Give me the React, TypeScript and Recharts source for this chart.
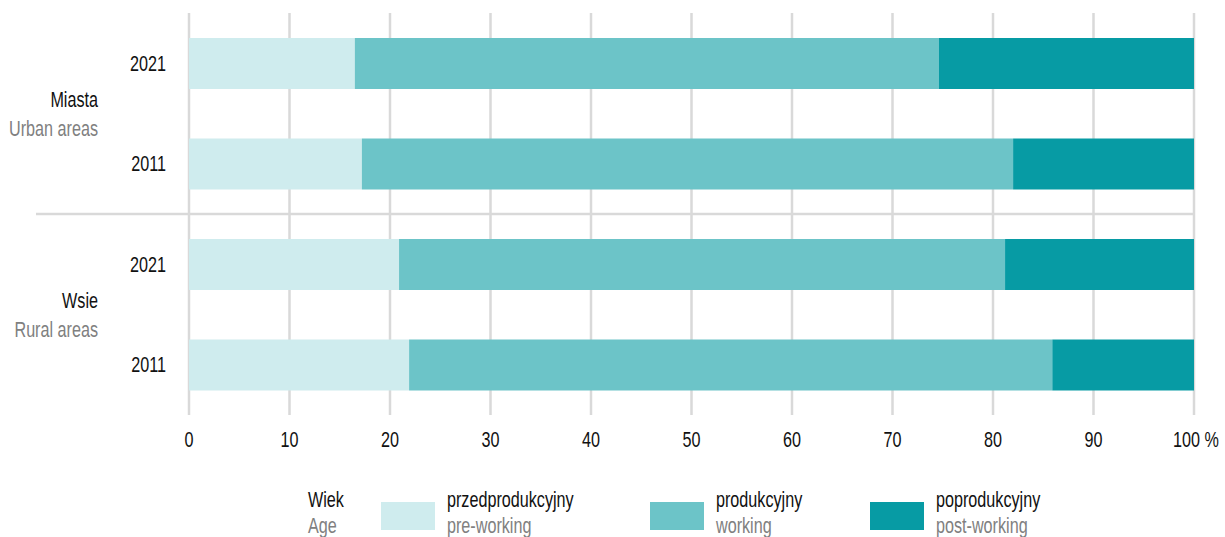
import React from 'react';
import { BarChart, Bar, XAxis, YAxis, CartesianGrid, Legend } from 'recharts';

// Population by economic age group, share in %
const rowKeys = ['miasta-2021', 'miasta-2011', 'wsie-2021', 'wsie-2011'];
const years = ['2021', '2011', '2021', '2011'];
const groupLabels = [
  { pl: 'Miasta', en: 'Urban areas' },
  { pl: 'Wsie', en: 'Rural areas' },
];
const preWorking = [16.5, 17.2, 20.9, 21.9];
const working = [58.1, 64.8, 60.3, 64.0];
const postWorking = [25.4, 18.0, 18.8, 14.1];
const xTicks = [0, 10, 20, 30, 40, 50, 60, 70, 80, 90, 100];

const seriesNames = [
  { key: 'pre', pl: 'przedprodukcyjny', en: 'pre-working', color: '#cfecee' },
  { key: 'work', pl: 'produkcyjny', en: 'working', color: '#6cc4c8' },
  { key: 'post', pl: 'poprodukcyjny', en: 'post-working', color: '#079ba4' },
];
const legendTitle = { pl: 'Wiek', en: 'Age' };

const data = rowKeys.map((id, i) => ({
  id,
  year: years[i],
  pre: preWorking[i],
  work: working[i],
  post: postWorking[i],
}));

const W = 1225;
const H = 537;
const MARGIN = { top: 13, right: 31, bottom: 82, left: 0 };
const Y_AXIS_W = 189;
const X_AXIS_H = 40;
const PLOT_H = H - MARGIN.top - MARGIN.bottom - X_AXIS_H;
const BAND = PLOT_H / rowKeys.length;
const PLOT_RIGHT = W - MARGIN.right;

const FONT = "'Liberation Sans', Arial, sans-serif";
const FS = 22;
const SX = 0.735; // horizontal squeeze for a condensed look
const DARK = '#111111';
const GREY = '#808080';
const GRID = '#d9d9d9';

// Condensed text helper
const CText = ({ x, y, anchor = 'start', fill = DARK, size = FS, baseline = 'auto', children }: any) => (
  <text
    transform={`translate(${x},${y}) scale(${SX},1)`}
    textAnchor={anchor}
    dominantBaseline={baseline}
    fontSize={size}
    fill={fill}
    fontFamily={FONT}
  >
    {children}
  </text>
);

const YTick = (props: any) => {
  const { x, y, index } = props;
  const mid = y + BAND / 2;
  const g = groupLabels[index / 2];
  return (
    <g>
      <CText x={x - 23} y={y} anchor="end" baseline="central">
        {years[index]}
      </CText>
      {index % 2 === 0 && (
        <g>
          <CText x={98} y={mid - 14} anchor="end" baseline="central">
            {g.pl}
          </CText>
          <CText x={98} y={mid + 15} anchor="end" baseline="central" fill={GREY}>
            {g.en}
          </CText>
        </g>
      )}
      {index === 1 && <line x1={36} x2={PLOT_RIGHT} y1={mid} y2={mid} stroke={GRID} strokeWidth={2.5} />}
    </g>
  );
};

const XTick = (props: any) => {
  const { x, y, payload } = props;
  if (payload.value === 100) {
    return (
      <CText x={x - 21} y={y + 25} baseline="central">
        {`${payload.value} %`}
      </CText>
    );
  }
  return (
    <CText x={x} y={y + 25} anchor="middle" baseline="central">
      {payload.value}
    </CText>
  );
};

const LEGEND_TOP = 480;
const legendItemX = [381, 650, 870];

const LegendContent = () => (
  <svg width={W} height={H - LEGEND_TOP} style={{ display: 'block' }}>
    <CText x={308} y={507 - LEGEND_TOP}>{legendTitle.pl}</CText>
    <CText x={308} y={533 - LEGEND_TOP} fill={GREY}>{legendTitle.en}</CText>
    {seriesNames.map((s, i) => (
      <g key={s.key}>
        <rect x={legendItemX[i]} y={502 - LEGEND_TOP} width={54} height={28} fill={s.color} />
        <CText x={legendItemX[i] + 66} y={507 - LEGEND_TOP}>{s.pl}</CText>
        <CText x={legendItemX[i] + 66} y={533 - LEGEND_TOP} fill={GREY}>{s.en}</CText>
      </g>
    ))}
  </svg>
);

export default function App() {
  return (
    <div style={{ position: 'absolute', left: 0, top: 0, width: W, height: H, background: '#fff', overflow: 'hidden' }}>
      <BarChart width={W} height={H} data={data} layout="vertical" margin={MARGIN}>
        <CartesianGrid horizontal={false} vertical stroke={GRID} strokeWidth={2.5} />
        <XAxis
          type="number"
          domain={[0, 100]}
          ticks={xTicks}
          axisLine={false}
          tickLine={false}
          tickSize={0}
          tickMargin={0}
          height={X_AXIS_H}
          tick={<XTick />}
          interval={0}
        />
        <YAxis
          type="category"
          dataKey="id"
          width={Y_AXIS_W}
          axisLine={false}
          tickLine={false}
          tickSize={0}
          tickMargin={0}
          tick={<YTick />}
          interval={0}
        />
        <Legend
          layout="horizontal"
          verticalAlign="middle"
          align="center"
          content={<LegendContent />}
          wrapperStyle={{ top: LEGEND_TOP, left: 0, width: W, height: H - LEGEND_TOP }}
        />
        {seriesNames.map((s) => (
          <Bar key={s.key} dataKey={s.key} name={s.pl} stackId="a" fill={s.color} barSize={51} isAnimationActive={false} />
        ))}
      </BarChart>
    </div>
  );
}
